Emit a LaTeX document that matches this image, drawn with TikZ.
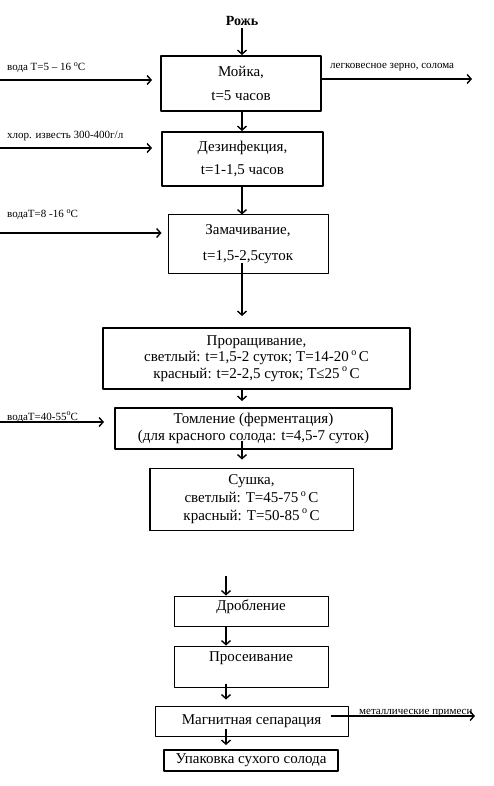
\documentclass[tikz,border=0pt]{standalone}
\usepackage{fontspec}
\setmainfont{Liberation Serif}
\usetikzlibrary{arrows.meta}
\newcommand{\grad}{\,\raisebox{0.45em}{\fontsize{10}{10}\selectfont o}\,}
\newcommand{\sgrad}{\raisebox{0.45em}{\fontsize{8}{8}\selectfont o}}
\begin{document}
\begin{tikzpicture}[x=1pt, y=-1pt, font=\fontsize{15}{16.5}\selectfont, line join=round,
  >={Straight Barb[length=4pt,width=9pt]},
  box/.style={draw, line width=1pt, inner sep=0pt, align=center},
  thickbox/.style={box, line width=2pt},
  flow/.style={->, line width=1.4pt},
  side/.style={font=\fontsize{11}{12}\selectfont, inner sep=0pt, anchor=base west}]
\useasboundingbox (0,0) rectangle (493,786);
% upper column
\node[font=\bfseries\fontsize{14}{16}\selectfont] (rozh) at (242,21) {Рожь};
\node[thickbox, minimum width=160, minimum height=55] (moika) at (241,83.5) {Мойка,\\[7pt] t=5 часов};
\node[thickbox, minimum width=161, minimum height=54] (dezinf) at (242.5,159) {Дезинфекция,\\[7pt] t=1-1,5 часов};
\node[box, minimum width=160, minimum height=58] (zamach) at (248,244) {Замачивание,\\[9pt] t=1,5-2,5суток};
\node[thickbox, minimum width=307, minimum height=61] (prorash) at (256.5,358.5) {Проращивание,\\ светлый: t=1,5-2 суток; T=14-20\grad C\\ красный: t=2-2,5 суток; T≤25\grad C};
\node[thickbox, minimum width=277, minimum height=41] (tomlen) at (253.5,428.5) {Томление (ферментация)\\ (для красного солода: t=4,5-7 суток)};
\node[box, minimum width=203, minimum height=62] (sushka) at (251.5,499) {Сушка,\\[2pt] светлый: T=45-75\grad C\\[1pt] красный: T=50-85\grad C};
\draw[line width=2pt] (sushka.north west) -- (sushka.south west);
% lower column
\coordinate (start) at (226,576);
\node[box, minimum width=154, text height=14, text depth=16] (drobl) at (251,611) {Дробление};
\node[box, minimum width=154, text height=15, text depth=26] (proseiv) at (251,666.5) {Просеивание};
\node[box, minimum width=193, minimum height=30] (magnit) at (251.5,721) {Магнитная сепарация};
\node[thickbox, minimum width=174, minimum height=21] (upak) at (251,760.5) {Упаковка сухого солода};
% flow
\draw[flow] (rozh.south) ++(0,-1) -- (moika.north -| rozh);
\draw[flow] (moika.south -| rozh) -- (dezinf.north -| rozh);
\draw[flow] (dezinf.south -| rozh) -- (zamach.north -| rozh);
\draw[flow, shorten <=-11pt, shorten >=11pt] (zamach.south -| rozh) -- (prorash.north -| rozh);
\draw[flow, shorten >=6pt] (prorash.south -| rozh) -- (tomlen.north -| rozh);
\draw[flow, shorten <=-9pt, shorten >=8pt] (tomlen.south -| rozh) -- (sushka.north -| rozh);
\draw[flow] (start) -- (drobl.north -| start);
\draw[flow] (drobl.south -| start) -- (proseiv.north -| start);
\draw[flow, shorten <=-4pt, shorten >=6pt] (proseiv.south -| start) -- (magnit.north -| start);
\draw[flow, shorten <=-8pt, shorten >=4pt] (magnit.south -| start) -- (upak.north -| start);
% side streams
\coordinate (in1) at (0,80);
\coordinate (in2) at (0,148);
\coordinate (in3) at (0,233);
\coordinate (in4) at (0,422);
\coordinate (out1) at (472,79);
\coordinate (out2) at (475,716);
\draw[flow, shorten >=8pt] (in1) -- (in1 -| moika.west);
\draw[flow, shorten >=9pt] (in2) -- (in2 -| dezinf.west);
\draw[flow, shorten >=6pt] (in3) -- (in3 -| zamach.west);
\draw[flow, shorten >=10pt] (in4) -- (in4 -| tomlen.west);
\draw[flow, shorten <=-2pt] (out1 -| moika.east) -- (out1);
\draw[flow, shorten <=-18pt] (out2 -| magnit.east) -- (out2);
\node[side] (l1) at (7,71) {вода T=5 – 16 \sgrad C};
\node[side] (l2) at (7,139) {хлор. известь 300-400г/л};
\node[side] (l3) at (7,218) {водаT=8 -16 \sgrad C};
\node[side] (l4) at (7,420) {водаT=40-55\sgrad C};
\node[side] (l5) at (330,69) {легковесное зерно, солома};
\node[side] (l6) at (359,714) {металлические примеси};
\end{tikzpicture}
\end{document}
